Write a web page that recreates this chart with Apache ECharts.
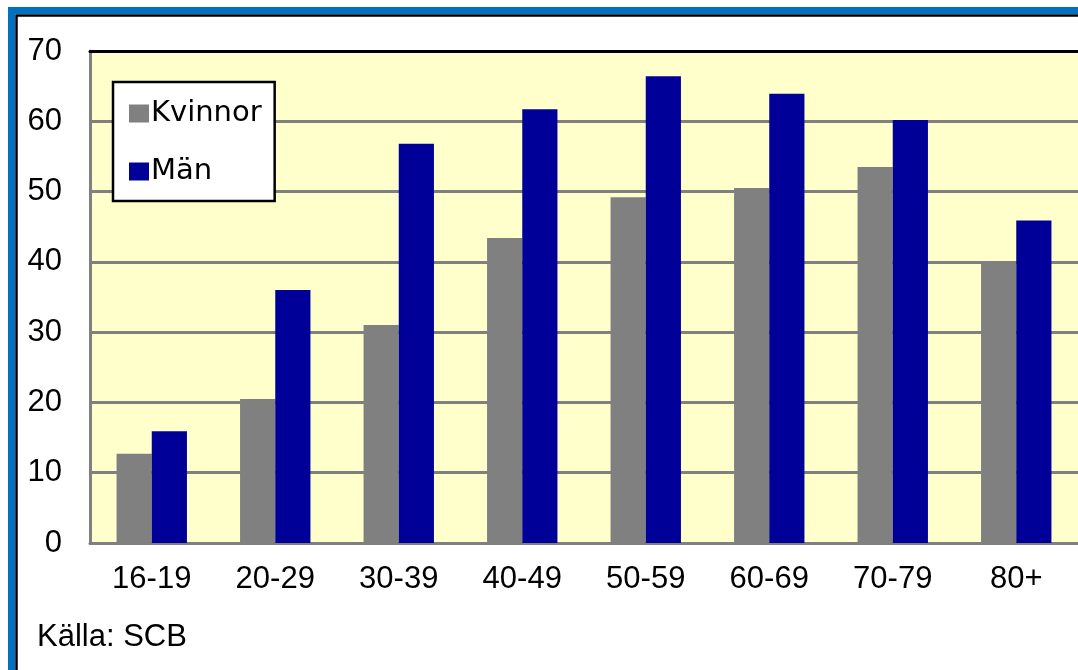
<!DOCTYPE html>
<html>
<head>
<meta charset="utf-8">
<script src="https://cdn.jsdelivr.net/npm/echarts@6/dist/echarts.min.js"></script>
<style>
html,body{margin:0;padding:0;background:#fff;}
#chart{width:1078px;height:670px;}
</style>
</head>
<body>
<div id="chart"></div>
<script>
const categories = ['16-19','20-29','30-39','40-49','50-59','60-69','70-79','80+'];
const kvinnor = [12.7, 20.5, 31.0, 43.4, 49.2, 50.5, 53.5, 40.1];
const man = [15.9, 36.0, 56.8, 61.7, 66.4, 63.9, 60.2, 45.9];
const seriesNames = ['Kvinnor', 'Män'];
const sourceText = 'Källa: SCB';

const chart = echarts.init(document.getElementById('chart'));
const axisFont = { fontFamily: '"Liberation Sans", Arial, sans-serif', fontSize: 31, color: '#000' };

chart.setOption({
  animation: false,
  backgroundColor: '#fff',
  title: {
    text: sourceText,
    left: 37, top: 622, padding: 0,
    textStyle: { fontFamily: '"Liberation Sans", Arial, sans-serif', fontSize: 31, fontWeight: 'normal', color: '#000', lineHeight: 30 }
  },
  graphic: [
    { type: 'rect', shape: { x: 11.5, y: 10.5, width: 1200, height: 1000 }, style: { fill: null, stroke: '#0070c0', lineWidth: 7 }, z: 100 },
    { type: 'rect', shape: { x: 16.5, y: 15.5, width: 1200, height: 1000 }, style: { fill: null, stroke: '#000', lineWidth: 2.5 }, z: 100 }
  ],
  legend: {
    data: seriesNames,
    orient: 'vertical',
    left: 113, top: 82,
    backgroundColor: '#fff',
    borderColor: '#000', borderWidth: 2.5,
    padding: [17, 13, 15, 16],
    itemWidth: 20, itemHeight: 18, itemGap: 29,
    icon: 'rect',
    textStyle: { fontFamily: '"DejaVu Sans", Verdana, sans-serif', fontSize: 29, color: '#000', lineHeight: 28, padding: [0, 0, 0, -3] }
  },
  grid: {
    left: 90, top: 51, right: -2, bottom: 127,
    show: true, backgroundColor: '#FFFFCC', borderWidth: 0
  },
  xAxis: [{
    type: 'category', data: categories,
    axisLine: { show: true, lineStyle: { color: '#808080', width: 3 } },
    axisTick: { show: false },
    axisLabel: Object.assign({ margin: 21 }, axisFont)
  }, {
    type: 'category', data: categories, position: 'top',
    axisLine: { show: true, lineStyle: { color: '#000', width: 3 } },
    axisTick: { show: false }, axisLabel: { show: false }
  }],
  yAxis: {
    type: 'value', min: 0, max: 70, interval: 10,
    axisLine: { show: true, lineStyle: { color: '#808080', width: 3 } },
    axisTick: { show: false },
    splitLine: { show: true, lineStyle: { color: '#808080', width: 3 } },
    axisLabel: Object.assign({ margin: 28 }, axisFont)
  },
  series: [
    { name: seriesNames[0], type: 'bar', data: kvinnor, barGap: 0, barCategoryGap: '43%', itemStyle: { color: '#808080' } },
    { name: seriesNames[1], type: 'bar', data: man, barGap: 0, barCategoryGap: '43%', itemStyle: { color: '#000099' } }
  ]
});
</script>
</body>
</html>
